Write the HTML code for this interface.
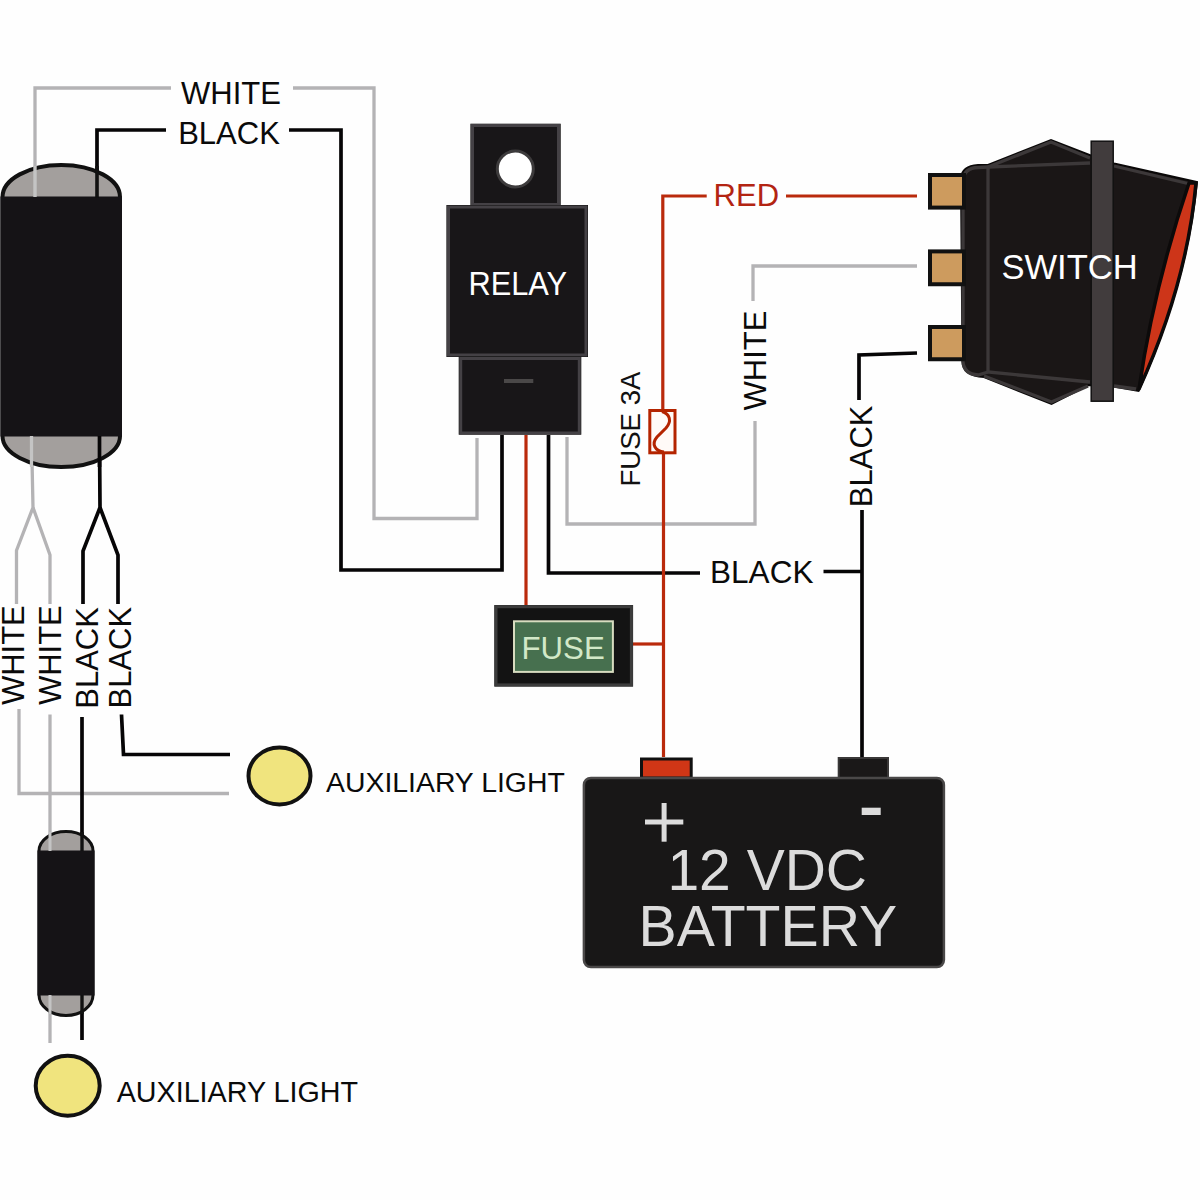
<!DOCTYPE html>
<html><head><meta charset="utf-8">
<style>
html,body{margin:0;padding:0;background:#fefefe;width:1200px;height:1200px;overflow:hidden}
svg{display:block}
text{font-family:"Liberation Sans",sans-serif}
</style></head>
<body>
<svg width="1200" height="1200" viewBox="0 0 1200 1200">
<rect width="1200" height="1200" fill="#fefefe"/>

<!-- ============ WIRES ============ -->
<g fill="none" stroke-linejoin="miter" stroke-linecap="butt">
  <!-- grey wires -->
  <g stroke="#b4b3b5" stroke-width="3.3">
    <path d="M35,197 V88 H171"/>
    <path d="M293,88 H374 V518.5 H477 V438"/>
    <path d="M567,437 V524 H755 V421"/>
    <path d="M753,301 V266 H917"/>
    <path d="M31.5,436 L33,507.5 L16.5,550.5 V604"/>
    <path d="M33,507.5 L50,555 V604"/>
    <path d="M19,709 V793.5 H229"/>
    <path d="M50,714.5 V1043"/>
  </g>
  <!-- black wires -->
  <g stroke="#060506" stroke-width="3.7">
    <path d="M97,198 V130 H166"/>
    <path d="M289,130 H341 V570 H502 V435"/>
    <path d="M548.5,435 V573 H700"/>
    <path d="M823.5,571.5 H862"/>
    <path d="M917,353 L859,355 V400"/>
    <path d="M862,510 V757"/>
    <path d="M99.5,436 L100,507.5 L83,551 V604"/>
    <path d="M100,507.5 L118,555 V604"/>
    <path d="M82,717 V1040"/>
    <path d="M121.5,714.5 L123.5,754.5 H230"/>
  </g>
  <!-- red wires -->
  <g stroke="#ba2a0c" stroke-width="3.2">
    <path d="M526,435 V605"/>
    <path d="M663.5,757 V454"/>
    <path d="M662.8,409 V196 H706.7"/>
    <path d="M786,196 H917"/>
    <path d="M633,644 H665"/>
  </g>
</g>

<!-- ============ LEFT CYLINDER (top) ============ -->
<g>
  <path d="M2.5,197 A58.75,32 0 0 1 120,197 V436 A58.75,31 0 0 1 2.5,436 Z" fill="#a39f9d" stroke="#111" stroke-width="4"/>
  <rect x="0.5" y="196.5" width="121.5" height="240" fill="#151316"/>
  <path d="M35,166 V197" stroke="#c4c4c4" stroke-width="3.4"/>
  <path d="M97,166 V198" stroke="#111" stroke-width="3.6"/>
  <path d="M31.5,436 V467" stroke="#c4c4c4" stroke-width="3.3"/>
  <path d="M99.5,436 V467" stroke="#060506" stroke-width="3.7"/>
</g>

<!-- ============ SMALL CYLINDER (bottom) ============ -->
<g>
  <path d="M39,851 A27,19.5 0 0 1 93,851 V995 A27,20.5 0 0 1 39,995 Z" fill="#a39f9d" stroke="#111" stroke-width="3"/>
  <rect x="37.5" y="850.5" width="57" height="145" fill="#151316"/>
  <path d="M50,832 V851" stroke="#c4c4c4" stroke-width="3"/>
  <path d="M82,832 V851" stroke="#111" stroke-width="3.4"/>
  <path d="M50,995 V1014" stroke="#c4c4c4" stroke-width="3"/>
  <path d="M82,995 V1014" stroke="#111" stroke-width="3.4"/>
</g>

<!-- ============ LIGHTS ============ -->
<ellipse cx="279.5" cy="776" rx="31" ry="28.5" fill="#f0e47e" stroke="#111" stroke-width="4"/>
<ellipse cx="67.7" cy="1085.7" rx="32" ry="30" fill="#f0e47e" stroke="#111" stroke-width="4"/>

<!-- ============ RELAY ============ -->
<g>
  <rect x="470.4" y="123.7" width="90.3" height="83" fill="#0f0e0e"/>
  <rect x="472.5" y="125.5" width="86" height="79" fill="#181618" stroke="#444145" stroke-width="3"/>
  <circle cx="515.3" cy="169" r="18" fill="#fff" stroke="#3d3b3c" stroke-width="3"/>
  <rect x="446.4" y="205" width="141.6" height="152" fill="#0f0e0e"/>
  <rect x="448.5" y="207" width="137.5" height="148" fill="#181618" stroke="#444145" stroke-width="3"/>
  <rect x="458.7" y="356.7" width="122.6" height="78" fill="#0f0e0e"/>
  <rect x="460.7" y="358.5" width="118.6" height="74.5" fill="#181618" stroke="#444145" stroke-width="3"/>
  <rect x="504" y="379" width="29.3" height="4" fill="#4a4848"/>
  <text x="468.5" y="295.2" font-size="30.8" fill="#ffffff" transform="translate(0,295.2) scale(1,1.06) translate(0,-295.2)">RELAY</text>
</g>

<!-- ============ FUSE BOX ============ -->
<g>
  <rect x="494.3" y="605" width="138.8" height="81.6" fill="#222"/>
  <rect x="496" y="606.7" width="135.4" height="78.2" fill="#131313" stroke="#3c3c3c" stroke-width="3"/>
  <rect x="514" y="621.3" width="98.9" height="50.6" fill="#47704f" stroke="#d8dcc0" stroke-width="2"/>
  <text x="521.5" y="658.8" font-size="31.2" fill="#d2e8c8">FUSE</text>
</g>

<!-- ============ INLINE FUSE 3A ============ -->
<g>
  <rect x="649.8" y="410.5" width="25.2" height="42.3" fill="#fffaf7" stroke="#b42400" stroke-width="3"/>
  <path d="M662,411.5 C670,414 672,421 666,428 L657,437 C651,444 655,451 664,452" fill="none" stroke="#b42400" stroke-width="3"/>
  <text transform="translate(640.3,484.3) rotate(-90)" x="-2.3" y="0" font-size="27.6" fill="#111">FUSE 3A</text>
</g>

<!-- ============ BATTERY ============ -->
<g>
  <rect x="641.5" y="759" width="49.7" height="19" fill="#d03616" stroke="#111" stroke-width="3"/>
  <rect x="838.7" y="758" width="49.3" height="20" fill="#1a1818" stroke="#3a3838" stroke-width="2"/>
  <rect x="583.9" y="777.9" width="360" height="189.2" rx="7" fill="#181717" stroke="#4a4848" stroke-width="2.5"/>
  <rect x="645" y="819.5" width="38.3" height="5" fill="#dcdcdc"/>
  <rect x="661.6" y="803" width="5" height="38.7" fill="#dcdcdc"/>
  <rect x="861.7" y="807.7" width="19" height="7.3" fill="#dcdcdc"/>
  <text x="667.4" y="890" font-size="57" fill="#dcdcdc">12 VDC</text>
  <text x="638.6" y="946" font-size="57.2" fill="#dcdcdc">BATTERY</text>
</g>

<!-- ============ SWITCH ============ -->
<g>
  <!-- body -->
  <path d="M961,178 Q962,166 978,165 L988,165 L1051,140 L1092,156 L1114,163.5 L1197,182 Q1187,284 1138.5,391 L1113.5,386.5 L1088.5,385 L1051.5,404 L984,377 Q962,376 962.5,360 Z" fill="#1a1616" stroke="#0a0808" stroke-width="2"/>
  <g fill="none" stroke="#3c3839" stroke-width="3.3">
    <path d="M963,180 Q964,168 978,167.5 L988,167 L1090,163"/>
    <path d="M988,167 V372 L1090,382"/>
    <path d="M988,167 L1051,142 L1090,158"/>
    <path d="M984,376 L1051.5,402 L1088,386"/>
    <path d="M963,180 V362 Q964,374 978,375 L988,372"/>
    <path d="M1114,166 L1190,184"/>
    <path d="M1114,386 L1136,389"/>
  </g>
  <!-- red strip -->
  <path d="M1189,183 L1196,183 Q1187,284 1139,389 Q1154,286 1189,183 Z" fill="#cd3519" stroke="#0c0a0a" stroke-width="3.5" stroke-linejoin="round"/>
  <!-- terminals -->
  <rect x="930" y="175" width="34" height="32.6" fill="#cd9b5e" stroke="#111" stroke-width="4"/>
  <rect x="930" y="251.4" width="34" height="32.85" fill="#cd9b5e" stroke="#111" stroke-width="4"/>
  <rect x="930" y="327" width="34" height="32.25" fill="#cd9b5e" stroke="#111" stroke-width="4"/>
  <!-- bar -->
  <rect x="1091.2" y="141.2" width="22" height="260" fill="#413c3d" stroke="#111" stroke-width="1.5"/>
  <text x="1001.4" y="279" font-size="34.6" fill="#ffffff">SWITCH</text>
</g>

<!-- ============ LABELS ============ -->
<g fill="#0a0a0a" font-size="31">
  <text x="181" y="103.5">WHITE</text>
  <text x="178.2" y="143.8">BLACK</text>
  <text x="713.6" y="206" fill="#b32412" font-size="31">RED</text>
  <text x="710.1" y="583.3" font-size="31.5">BLACK</text>
  <text transform="translate(766.1,410.4) rotate(-90)" x="-0.1" y="0">WHITE</text>
  <text transform="translate(872.3,504.7) rotate(-90)" x="-2.5" y="0">BLACK</text>
  <text transform="translate(24.4,705) rotate(-90)" x="-0.1" y="0">WHITE</text>
  <text transform="translate(61.25,705) rotate(-90)" x="-0.1" y="0">WHITE</text>
  <text transform="translate(98.1,706.25) rotate(-90)" x="-2.5" y="0">BLACK</text>
  <text transform="translate(131.25,706) rotate(-90)" x="-2.5" y="0">BLACK</text>
  <text x="326" y="792.4" font-size="28.4">AUXILIARY LIGHT</text>
  <text x="116.7" y="1101.7" font-size="28.7">AUXILIARY LIGHT</text>
</g>
</svg>
</body></html>
